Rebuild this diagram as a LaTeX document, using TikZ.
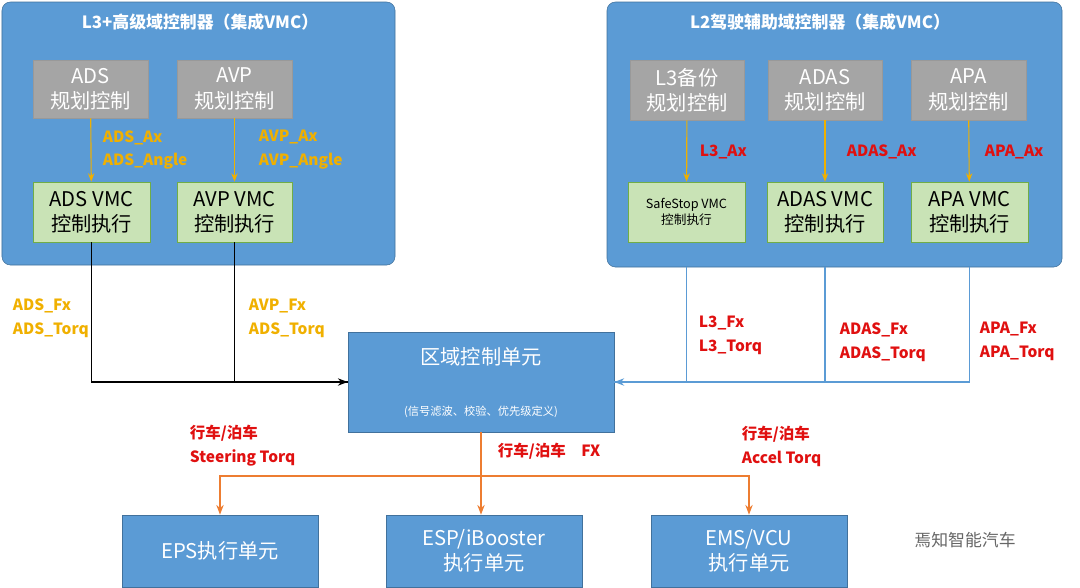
\documentclass[tikz,border=0pt]{standalone}
\usepackage{fontspec}
\setmainfont{Noto Sans CJK SC}
\usetikzlibrary{arrows.meta}
\definecolor{domblue}{HTML}{5B9BD5}
\definecolor{domedge}{HTML}{41719C}
\definecolor{plangray}{HTML}{A5A5A5}
\definecolor{vmcgreen}{HTML}{C9E3B6}
\definecolor{vmcedge}{HTML}{70AD47}
\definecolor{sigyel}{HTML}{F0B000}
\definecolor{sigred}{HTML}{E01010}
\definecolor{actorange}{HTML}{ED7D31}
\tikzset{
  dombox/.style={draw=domedge,fill=domblue,rounded corners=6pt},
  plan/.style={draw=gray!80,fill=plangray,text=white,font=\Large,align=center,inner sep=0pt},
  vmc/.style={draw=vmcedge,fill=vmcgreen,font=\Large,align=center,inner sep=0pt},
  unit/.style={draw=domedge,fill=domblue,text=white,font=\Large,align=center,inner sep=0pt},
  ylab/.style={text=sigyel,font=\bfseries\fontsize{11}{17}\selectfont,align=left,anchor=west},
  rlab/.style={text=sigred,font=\bfseries\fontsize{11}{17}\selectfont,align=left,anchor=west},
  sig/.style={draw=sigyel,thick,-{Stealth[length=6pt]}},
  act/.style={draw=actorange,thick,-{Stealth[length=7pt]}}
}
\begin{document}
\begin{tikzpicture}[x=0.025cm,y=-0.025cm]
\useasboundingbox (0,0) rectangle (1080,587);
% domain controllers
\draw[dombox] (2,2) rectangle (395,265);
\node[text=white,font=\large\bfseries] (t3) at (200,22) {L3+高级域控制器（集成VMC）};
\draw[dombox] (607,2) rectangle (1062,267);
\node[text=white,font=\large\bfseries] (t2) at (820,22) {L2驾驶辅助域控制器（集成VMC）};
% planning
\path (90.5,89) node[plan,minimum width=2.875cm,minimum height=1.45cm] (ads) {ADS\\规划控制}
      (234.5,89) node[plan,minimum width=2.875cm,minimum height=1.45cm] (avp) {AVP\\规划控制}
      (687,90) node[plan,minimum width=2.85cm,minimum height=1.5cm] (l3b) {L3备份\\规划控制}
      (825,90) node[plan,minimum width=2.85cm,minimum height=1.5cm] (adas) {ADAS\\规划控制}
      (968.5,90) node[plan,minimum width=2.875cm,minimum height=1.5cm] (apa) {APA\\规划控制};
% vmc
\path (91.5,212) node[vmc,minimum width=2.925cm,minimum height=1.5cm] (adsv) {ADS VMC\\控制执行}
      (234.5,212) node[vmc,minimum width=2.875cm,minimum height=1.5cm] (avpv) {AVP VMC\\控制执行}
      (686.5,212) node[vmc,minimum width=2.925cm,minimum height=1.5cm,font=\small] (ssv) {SafeStop VMC\\控制执行}
      (825,212) node[vmc,minimum width=2.9cm,minimum height=1.5cm] (adasv) {ADAS VMC\\控制执行}
      (969.5,212) node[vmc,minimum width=2.925cm,minimum height=1.5cm] (apav) {APA VMC\\控制执行};
\draw[sig] (ads) -- (adsv);
\draw[sig] (avp) -- (avpv);
\draw[sig] (l3b) -- (ssv);
\draw[sig] (adas) -- (adasv);
\draw[sig] (apa) -- (apav);
\node[ylab] (l1) at (98,150) {ADS\_Ax\\ADS\_Angle};
\node[ylab] (l2) at (254,150) {AVP\_Ax\\AVP\_Angle};
\node[rlab] (l3) at (695,152) {L3\_Ax};
\node[rlab] (l4) at (842,152) {ADAS\_Ax};
\node[rlab] (l5) at (980,152) {APA\_Ax};
% zone unit
\node[unit,minimum width=6.65cm,minimum height=2.5cm] (zone) at (481,382) {};
\node[text=white,font=\Large] (zt) at (481,357) {区域控制单元};
\node[text=white,font=\footnotesize] (zs) at (481,412) {(信号滤波、校验、优先级定义)};
\draw[thick] (adsv.south) |- (zone.west);
\draw[thick,-{Stealth[length=7pt]}] (avpv.south) |- (zone.west);
\draw[domblue,thick] (ssv.south |- 0,267) |- (zone.east);
\draw[domblue,thick] (adasv.south |- 0,267) |- (zone.east);
\draw[domblue,thick,-{Stealth[length=7pt]}] (apav.south |- 0,267) |- (zone.east);
\node[ylab] (l6) at (8,318) {ADS\_Fx\\ADS\_Torq};
\node[ylab] (l7) at (244,318) {AVP\_Fx\\ADS\_Torq};
\node[rlab] (l8) at (694,335) {L3\_Fx\\L3\_Torq};
\node[rlab] (l9) at (835,342) {ADAS\_Fx\\ADAS\_Torq};
\node[rlab] (l10) at (975,341) {APA\_Fx\\APA\_Torq};
% actuators
\node[unit,minimum width=4.9cm,minimum height=1.8cm] (eps) at (220,551) {EPS执行单元};
\node[unit,minimum width=4.9cm,minimum height=1.8cm] (esp) at (484,551) {ESP/iBooster\\执行单元};
\node[unit,minimum width=4.9cm,minimum height=1.8cm] (ems) at (749,551) {EMS/VCU\\执行单元};
\coordinate (bus) at (481,476);
\draw[act] (zone.south) -- (zone.south |- esp.north);
\draw[act] (bus) -| (eps.north);
\draw[act] (bus) -| (ems.north);
\node[rlab] (l11) at (185,446) {行车/泊车\\Steering Torq};
\node[rlab] (l12) at (493,451) {行车/泊车\quad FX};
\node[rlab] (l13) at (737,446) {行车/泊车\\Accel Torq};
\node[text=gray!80!black,font=\large] (wm) at (965,540) {焉知智能汽车};
\end{tikzpicture}
\end{document}
